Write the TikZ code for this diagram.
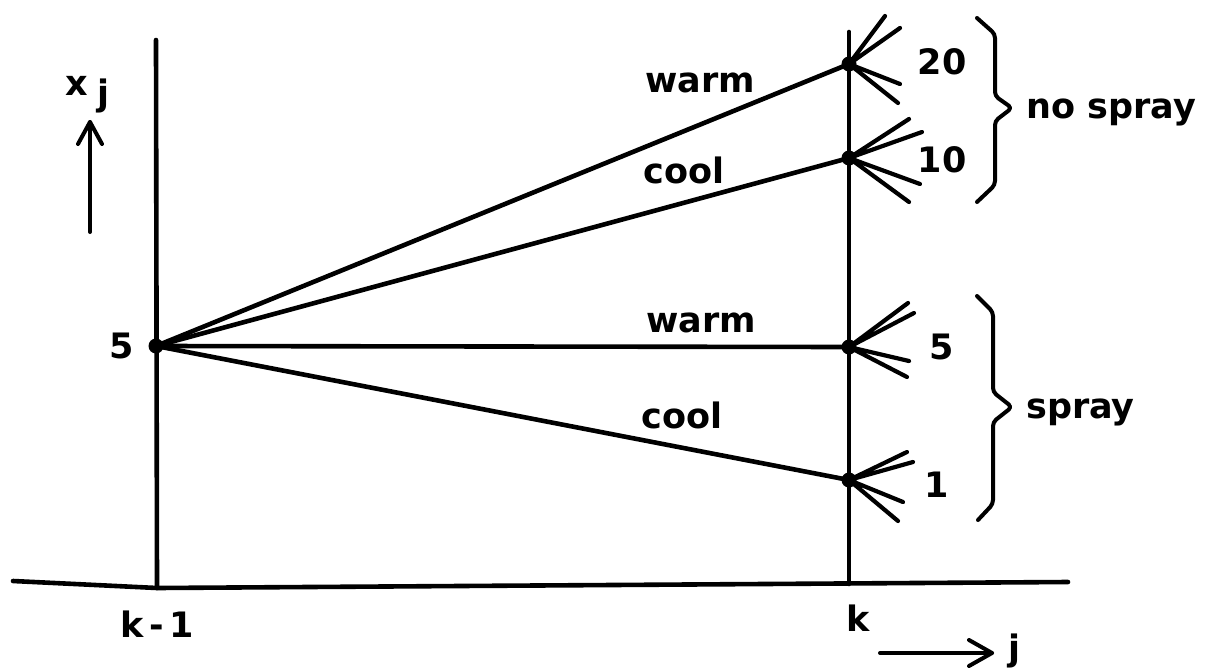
\documentclass[tikz,border=0pt]{standalone}
\usepackage{fontspec}
\newfontfamily\lab{DejaVu Sans Bold}
\begin{document}
\begin{tikzpicture}[x=1pt,y=-1pt,
  ln/.style={line width=4.6pt,line cap=round},
  fan/.style={line width=4.2pt,line cap=round},
  dot/.style={circle,fill=black,inner sep=0pt,minimum size=15pt},
  txt/.style={font=\lab\fontsize{35}{38}\selectfont,anchor=base,inner sep=0pt},
  brace/.style={line width=4pt,rounded corners=4pt,line cap=round,line join=round},
  ax/.style={line width=4pt,line cap=round,line join=round}]
\useasboundingbox (0,0) rectangle (1205,672);
% vertical lines and baseline
\coordinate (LT) at (156,40);
\coordinate (LB) at (157,588);
\coordinate (RT) at (849,32);
\coordinate (RB) at (849,584);
\coordinate (B0) at (13,581);
\coordinate (B2) at (1068,582);
\draw[ln] (LT) -- (LB);
\draw[ln] (RT) -- (RB);
\draw[ln] (B0) -- (LB) -- (B2);
% nodes
\node[dot] (L) at (156,346) {};
\node[dot] (R20) at (849,64) {};
\node[dot] (R10) at (849,158) {};
\node[dot] (R5) at (849,347) {};
\node[dot] (R1) at (849,480) {};
\draw[ln] (L.center) -- (R20.center);
\draw[ln] (L.center) -- (R10.center);
\draw[ln] (L.center) -- (R5.center);
\draw[ln] (L.center) -- (R1.center);
% fans
\draw[fan] (R20.center) -- ++(36,-48) (R20.center) -- ++(51,-36)
  (R20.center) -- ++(51,20) (R20.center) -- ++(49,39);
\draw[fan] (R10.center) -- ++(60,-39) (R10.center) -- ++(73,-26)
  (R10.center) -- ++(71,26) (R10.center) -- ++(60,44);
\draw[fan] (R5.center) -- ++(59,-44) (R5.center) -- ++(65,-34)
  (R5.center) -- ++(60,14) (R5.center) -- ++(58,30);
\draw[fan] (R1.center) -- ++(58,-28) (R1.center) -- ++(64,-18)
  (R1.center) -- ++(54,22) (R1.center) -- ++(49,41);
% line labels
\node[txt] (w1) at (700,92) {warm};
\node[txt] (c1) at (684,183) {cool};
\node[txt] (w2) at (701,332) {warm};
\node[txt] (c2) at (682,428) {cool};
% value labels
\node[txt] (v5l) at (122,358) {5};
\node[txt] (v20) at (942,74) {20};
\node[txt] (v10) at (942,172) {10};
\node[txt] (v5) at (942,359) {5};
\node[txt] (v1) at (937,497) {1};
% braces
\draw[brace] (977,18) -- (995,34) -- (995,96) -- (1012,108) -- (995,121) -- (995,185) -- (977,202);
\draw[brace] (977,296) -- (993,312) -- (993,392) -- (1012,407) -- (993,422) -- (993,504) -- (978,520);
\node[txt,anchor=base west] (ns) at (1026,118) {no spray};
\node[txt,anchor=base west] (sp) at (1026,418) {spray};
% axes labels
\node[txt] (xl) at (77,95) {x};
\node[txt] (jl) at (103,105) {j};
\coordinate (ya) at (90,232);
\coordinate (yb) at (90,122);
\draw[ax] (ya) -- (yb);
\draw[ax] (yb) ++(-12,22) -- (yb) -- ++(12,22);
\node[txt] (km1) at (157,637) {k\,-\,1};
\node[txt] (kl) at (858,631) {k};
\coordinate (xa) at (880,653);
\coordinate (xb) at (992,653);
\draw[ax] (xa) -- (xb);
\draw[ax] (xb) ++(-23,-13) -- (xb) -- ++(-23,13);
\node[txt] (jr) at (1014,660) {j};
\end{tikzpicture}
\end{document}
